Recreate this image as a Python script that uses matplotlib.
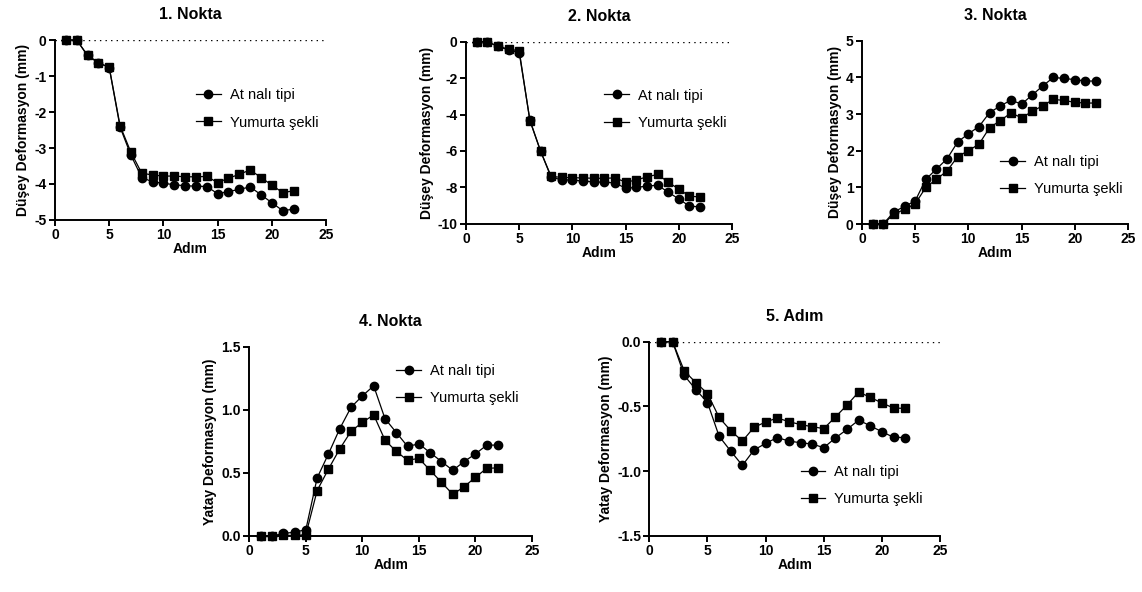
import matplotlib
matplotlib.use("Agg")
import matplotlib.pyplot as plt

plt.rcParams['font.family'] = ['Liberation Sans', 'DejaVu Sans']

adim = list(range(1, 23))
seri_adlari = ["At nalı tipi", "Yumurta şekli"]

# 1. Nokta - düşey deformasyon
n1_atnali = [0, 0, -0.43, -0.63, -0.77, -2.42, -3.2, -3.82, -3.94, -3.98, -4.02,
             -4.05, -4.06, -4.07, -4.27, -4.21, -4.15, -4.08, -4.3, -4.52, -4.74, -4.7]
n1_yumurta = [0, 0, -0.43, -0.63, -0.76, -2.38, -3.12, -3.7, -3.75, -3.78, -3.78,
              -3.8, -3.8, -3.79, -3.96, -3.84, -3.73, -3.61, -3.82, -4.03, -4.24, -4.19]

# 2. Nokta - düşey deformasyon
n2_atnali = [0, 0, -0.25, -0.45, -0.6, -4.3, -6.0, -7.45, -7.58, -7.6, -7.65,
             -7.7, -7.72, -7.75, -8.05, -8.0, -7.93, -7.88, -8.26, -8.64, -9.03, -9.07]
n2_yumurta = [0, 0, -0.25, -0.4, -0.5, -4.33, -6.0, -7.4, -7.45, -7.47, -7.48,
              -7.5, -7.5, -7.48, -7.71, -7.6, -7.42, -7.29, -7.71, -8.1, -8.48, -8.53]

# 3. Nokta - düşey deformasyon
n3_atnali = [0, 0, 0.33, 0.48, 0.63, 1.22, 1.5, 1.78, 2.24, 2.46, 2.66,
             3.04, 3.22, 3.38, 3.27, 3.52, 3.77, 4.0, 3.97, 3.94, 3.9, 3.9]
n3_yumurta = [0, 0, 0.27, 0.4, 0.55, 1.0, 1.22, 1.45, 1.84, 2.0, 2.18,
              2.63, 2.82, 3.03, 2.9, 3.07, 3.23, 3.4, 3.37, 3.32, 3.3, 3.3]

# 4. Nokta - yatay deformasyon
n4_atnali = [0, 0, 0.02, 0.03, 0.05, 0.46, 0.65, 0.85, 1.02, 1.11, 1.19,
             0.93, 0.82, 0.71, 0.73, 0.66, 0.59, 0.52, 0.59, 0.65, 0.72, 0.72]
n4_yumurta = [0, 0, 0.005, 0.005, 0.01, 0.36, 0.53, 0.69, 0.83, 0.9, 0.96,
              0.76, 0.67, 0.6, 0.615, 0.52, 0.425, 0.33, 0.39, 0.465, 0.536, 0.54]

# 5. Adım - yatay deformasyon
n5_atnali = [0, 0, -0.26, -0.37, -0.47, -0.73, -0.845, -0.955, -0.836, -0.785, -0.74,
             -0.767, -0.78, -0.79, -0.818, -0.743, -0.677, -0.605, -0.65, -0.695, -0.738, -0.74]
n5_yumurta = [0, 0, -0.225, -0.316, -0.4, -0.585, -0.687, -0.767, -0.661, -0.62, -0.589,
              -0.617, -0.64, -0.656, -0.671, -0.581, -0.489, -0.388, -0.43, -0.473, -0.512, -0.515]

basliklar = ["1. Nokta", "2. Nokta", "3. Nokta", "4. Nokta", "5. Adım"]
duşey = "Düşey Deformasyon (mm)"
yatay = "Yatay Deformasyon (mm)"

fig = plt.figure(figsize=(11.42, 5.92), dpi=100)

# [left, bottom, width, height], ylim, yticks, ylabel, legend center, tick format
paneller = [
    ([0.0482, 0.6284, 0.2373, 0.3040], n1_atnali, n1_yumurta, (-5, 0), [-5, -4, -3, -2, -1, 0], duşey, (0.52, 0.617), "{:.0f}"),
    ([0.4081, 0.6220, 0.2329, 0.3074], n2_atnali, n2_yumurta, (-10, 0), [-10, -8, -6, -4, -2, 0], duşey, (0.52, 0.63), "{:.0f}"),
    ([0.7548, 0.6216, 0.2329, 0.3096], n3_atnali, n3_yumurta, (0, 5), [0, 1, 2, 3, 4, 5], duşey, (0.52, 0.265), "{:.0f}"),
    ([0.2183, 0.0946, 0.2475, 0.3198], n4_atnali, n4_yumurta, (0, 1.5), [0, 0.5, 1.0, 1.5], yatay, (0.52, 0.80), "{:.1f}"),
    ([0.5686, 0.0946, 0.2546, 0.3282], n5_atnali, n5_yumurta, (-1.5, 0), [-1.5, -1.0, -0.5, 0], yatay, (0.52, 0.26), "{:.1f}"),
]

for baslik, (rect, s1, s2, ylim, yticks, ylabel, leg_pos, fmt) in zip(basliklar, paneller):
    ax = fig.add_axes(rect)
    ax.axhline(0, color='black', linestyle=(0, (1, 3)), linewidth=1.0, zorder=1)
    ax.plot(adim, s1, color='black', marker='o', markersize=6, linewidth=0.9,
            label=seri_adlari[0], clip_on=False, zorder=3)
    ax.plot(adim, s2, color='black', marker='s', markersize=6, linewidth=0.9,
            label=seri_adlari[1], clip_on=False, zorder=4)
    ax.set_xlim(0, 25)
    ax.set_ylim(*ylim)
    ax.set_xticks([0, 5, 10, 15, 20, 25])
    ax.set_yticks(yticks)
    ax.set_yticklabels([fmt.format(v) for v in yticks])
    for side in ('top', 'right'):
        ax.spines[side].set_visible(False)
    for side in ('left', 'bottom'):
        ax.spines[side].set_linewidth(1.4)
    ax.tick_params(direction='out', length=4, width=1.4, labelsize=10, pad=2)
    for lab in ax.get_xticklabels() + ax.get_yticklabels():
        lab.set_fontweight('bold')
    ax.set_xlabel("Adım", fontsize=10, fontweight='bold', labelpad=0)
    ax.set_ylabel(ylabel, fontsize=10, fontweight='bold', labelpad=3)
    ax.set_title(baslik, fontsize=11.5, fontweight='bold', pad=15)
    ax.legend(loc='center left', bbox_to_anchor=leg_pos, frameon=False,
              fontsize=10.5, handlelength=1.7, handletextpad=0.6, labelspacing=0.9,
              borderpad=0, borderaxespad=0)

fig.savefig("out.png", dpi=100)
